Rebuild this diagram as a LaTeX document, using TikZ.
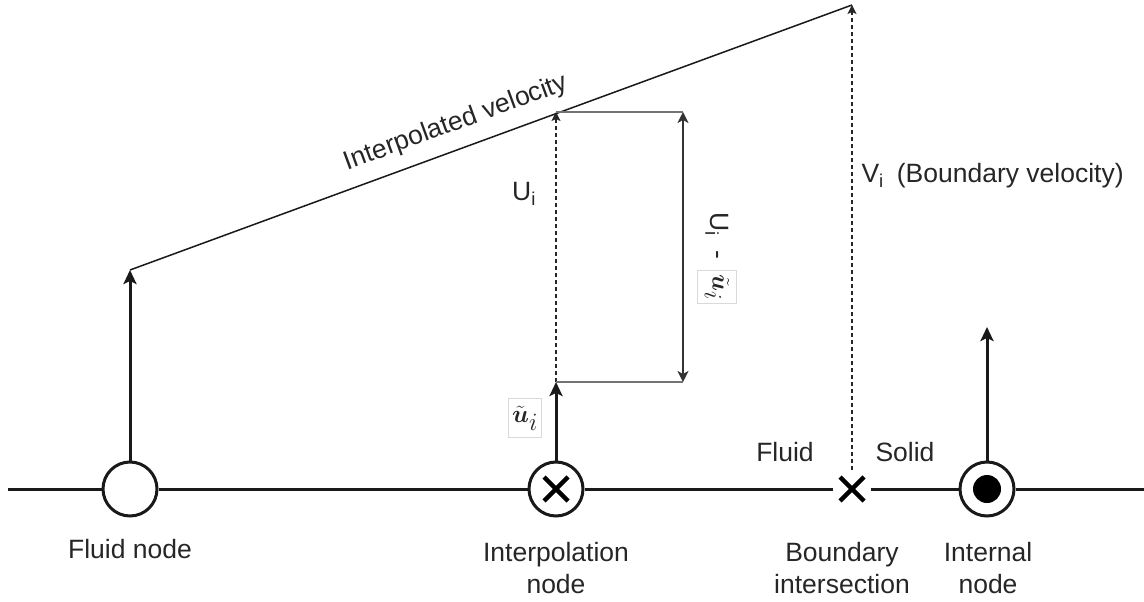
\documentclass[tikz,border=0pt]{standalone}
\usepackage{fontspec}
\setmainfont{Liberation Sans}
\usepackage{amsmath}
\usetikzlibrary{arrows.meta,calc}
\begin{document}
\begin{tikzpicture}[x=1pt,y=-1pt,
  every node/.style={font=\fontsize{26.5}{32}\selectfont, text=black!85},
  axis/.style={line width=3pt, black!90},
  circ/.style={circle, draw=black!90, line width=3pt, minimum size=54pt, inner sep=0pt, fill=white},
  vec/.style={line width=3pt, black!90, -{Stealth[length=14pt,width=13pt,inset=3pt]}},
  velline/.style={line width=1.5pt, black!90},
  dasharrow/.style={line width=1.2pt, black!85, dash pattern=on 4pt off 3pt, -{Stealth[length=9pt,width=9pt,inset=2pt]}},
  guide/.style={line width=1.2pt, black!55},
  dbl/.style={line width=1.8pt, black!80, {Stealth[length=11pt,width=11pt,inset=3pt]}-{Stealth[length=11pt,width=11pt,inset=3pt]}},
  crossline/.style={line width=4.5pt, black},
  mathbox/.style={draw=black!15, line width=0.8pt, fill=white, inner sep=1pt, minimum width=33pt, minimum height=39pt, font=\fontsize{34}{38}\selectfont}
]
\useasboundingbox (0,0) rectangle (1144,602);

% nodes on the axis
\node[circ] (fn) at (130,489) {};
\node[circ] (in) at (556,489) {};
\draw[crossline] ([shift={(-12,-12)}]in.center) -- ([shift={(12,12)}]in.center);
\draw[crossline] ([shift={(-12,12)}]in.center) -- ([shift={(12,-12)}]in.center);
\node[inner sep=0pt, minimum size=37pt] (bi) at (852,489) {};
\draw[crossline] ([shift={(-12,-12)}]bi.center) -- ([shift={(12,12)}]bi.center);
\draw[crossline] ([shift={(-12,12)}]bi.center) -- ([shift={(12,-12)}]bi.center);
\node[circ, path picture={
    \fill[black] (path picture bounding box.center) circle (14pt);
  }] (nn) at (987,489) {};

\coordinate (L) at (8,489);
\coordinate (R) at (1144,489);
\draw[axis] (L) -- (fn) (fn) -- (in) (in) -- (bi) (bi) -- (nn) (nn) -- (R);

% key points
\coordinate (fv) at (130,270);
\coordinate (ut) at (556,382);
\coordinate (ui) at (556,112);
\coordinate (vb) at (852,5);
\coordinate (nt) at (987,327);
\coordinate (dA) at (683,112);
\coordinate (dB) at (683,382);

% vectors
\draw[vec] (fn) -- (fv);
\draw[vec] (in) -- (ut);
\draw[vec] (nn) -- (nt);
\draw[velline] (fv) -- (vb) node[pos=0.464, sloped, above=9pt] {Interpolated velocity};
\draw[dasharrow] (ut) -- (ui);
\draw[dasharrow] (bi) -- (vb);
\draw[guide] (ui) -- (dA);
\draw[guide] (ut) -- (dB);
\draw[dbl] (dA) -- (dB);

% labels
\node (lfn) at (130,549) {Fluid node};
\node[align=center] (lin) at (556,568) {Interpolation\\node};
\node[align=center] (lbi) at (842,568) {Boundary\\intersection};
\node[align=center] (lnn) at (988,568) {Internal\\node};
\node (lfl) at (785,452) {Fluid};
\node (lso) at (905,452) {Solid};
\node[anchor=west] (lvi) at (858,176) {V\textsubscript{i}\hspace{13pt}(Boundary velocity)};
\node (lui) at (524,194) {U\textsubscript{i}};
\node[mathbox] (lut) at (525,418) {$\tilde{\boldsymbol{u}}_i$};
\node[rotate=-90] (ldiff) at (717,236) {U\textsubscript{i}\hspace{14pt}-};
\node[mathbox, rotate=-90] (ldt) at (717,287) {$\tilde{\boldsymbol{u}}_i$};
\end{tikzpicture}
\end{document}
